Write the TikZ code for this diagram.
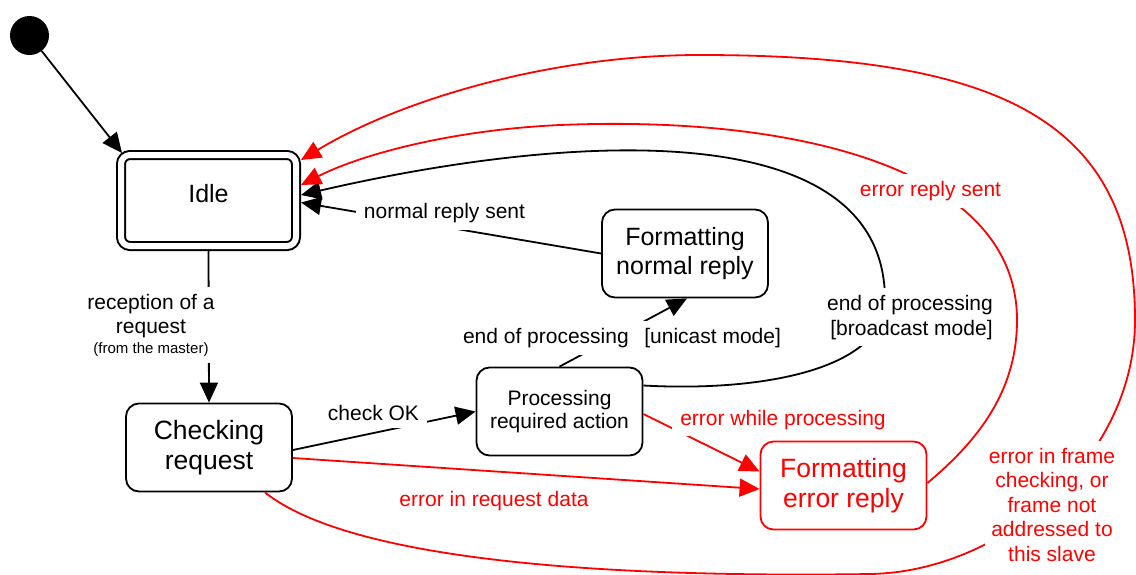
\documentclass[tikz,border=0pt]{standalone}
\usepackage{fontspec}
\setmainfont{Liberation Sans}
\usetikzlibrary{arrows.meta,calc}
\begin{document}
\begin{tikzpicture}[x=1pt,y=-1pt,
  state/.style={draw, line width=1.8pt, rounded corners=13pt, fill=white, align=center, inner sep=0pt, font=\fontsize{25}{29}\selectfont},
  bigtext/.style={font=\fontsize{26.5}{30}\selectfont},
  conn/.style={line width=1.8pt, -{Triangle[length=20pt,width=18pt]}},
  lbl/.style={fill=white, align=center, inner xsep=8pt, inner ysep=7pt, anchor=base, font=\fontsize{21}{24}\selectfont},
]
\useasboundingbox (0,0) rectangle (1136,574);
% states
\node[circle, fill=black, minimum size=39pt, inner sep=0pt] (init) at (29.5,35.5) {};
\node[state, double, double distance=6pt, line width=2pt, minimum width=175pt, minimum height=91pt, outer sep=5pt, rounded corners=9pt, text depth=14pt] (idle) at (208.5,200.5) {Idle};
\node[state, bigtext, minimum width=166pt, minimum height=88pt] (check) at (209,447.5) {Checking\\request};
\node[state, minimum width=166pt, minimum height=88pt, font=\fontsize{21}{23.5}\selectfont] (proc) at (559.5,411.5) {Processing\\required action};
\node[state, minimum width=166pt, minimum height=88pt] (fnorm) at (685,253.5) {Formatting\\normal reply};
\node[state, bigtext, draw=red, text=red, minimum width=166pt, minimum height=88pt] (ferr) at (843.5,485.5) {Formatting\\error reply};
% black connectors
\draw[conn] (init) -- ($(idle.north west)+(6,3)$);
\draw[conn] (idle.south) -- (check.north);
\draw[conn] ($(check.east)+(0,2.5)$) -- (proc.west);
\draw[conn] (proc.north) -- ($(fnorm.south)+(2,0)$);
\draw[conn] (fnorm.west) -- ($(idle.east)+(0,2)$);
\draw[conn] ($(proc.east)+(0,-26)$) .. controls (760,392) and (885,370) .. (885,300)
  .. controls (885,110) and (560,135) .. ($(idle.east)+(0,-5.5)$);
% red connectors
\draw[conn, red] ($(proc.east)+(0,2.5)$) -- ($(ferr.west)+(0,-14)$);
\draw[conn, red] ($(check.east)+(0,10.5)$) -- ($(ferr.west)+(0,3.5)$);
\draw[conn, red] ($(ferr.east)+(0,-2.5)$) .. controls (985,435) and (1017,385) .. (1017,320)
  .. controls (1017,170) and (800,115) .. (560,125)
  .. controls (450,130) and (360,155) .. ($(idle.east)+(0,-15.5)$);
\draw[conn, red] ($(check.south east)+(-28,0)$) .. controls (350,560) and (600,578) .. (870,574)
  .. controls (1000,572) and (1135,460) .. (1135,320)
  .. controls (1135,120) and (1000,55) .. (700,55)
  .. controls (550,55) and (400,100) .. ($(idle.east)+(0,-40.5)$);
% labels (anchor=base is the baseline of the last line)
\node[lbl] (lrec) at (151,353) {reception of a\\request\\[-4pt]{\fontsize{15}{17}\selectfont (from the master)}};
\node[lbl] (lok) at (373.5,420.5) {check OK};
\node[lbl] (luni) at (622,343.5) {end of processing\hspace{15.6pt}[unicast mode]};
\node[lbl] (lnorm) at (444.5,218.5) {normal reply sent};
\node[lbl, font=\fontsize{21}{25}\selectfont] (lbro) at (910,335) {end of processing\\\hspace*{3pt}[broadcast mode]};
\node[lbl, text=red] (lers) at (930.5,196.5) {error reply sent};
\node[lbl, text=red] (lewp) at (783,425) {error while processing};
\node[lbl, text=red] (lerd) at (494,506) {error in request data};
\node[lbl, text=red, font=\fontsize{21}{24.5}\selectfont, inner xsep=4pt] (lefr) at (1052,561) {error in frame\\checking, or\\frame not\\addressed to\\this slave};
\end{tikzpicture}
\end{document}
